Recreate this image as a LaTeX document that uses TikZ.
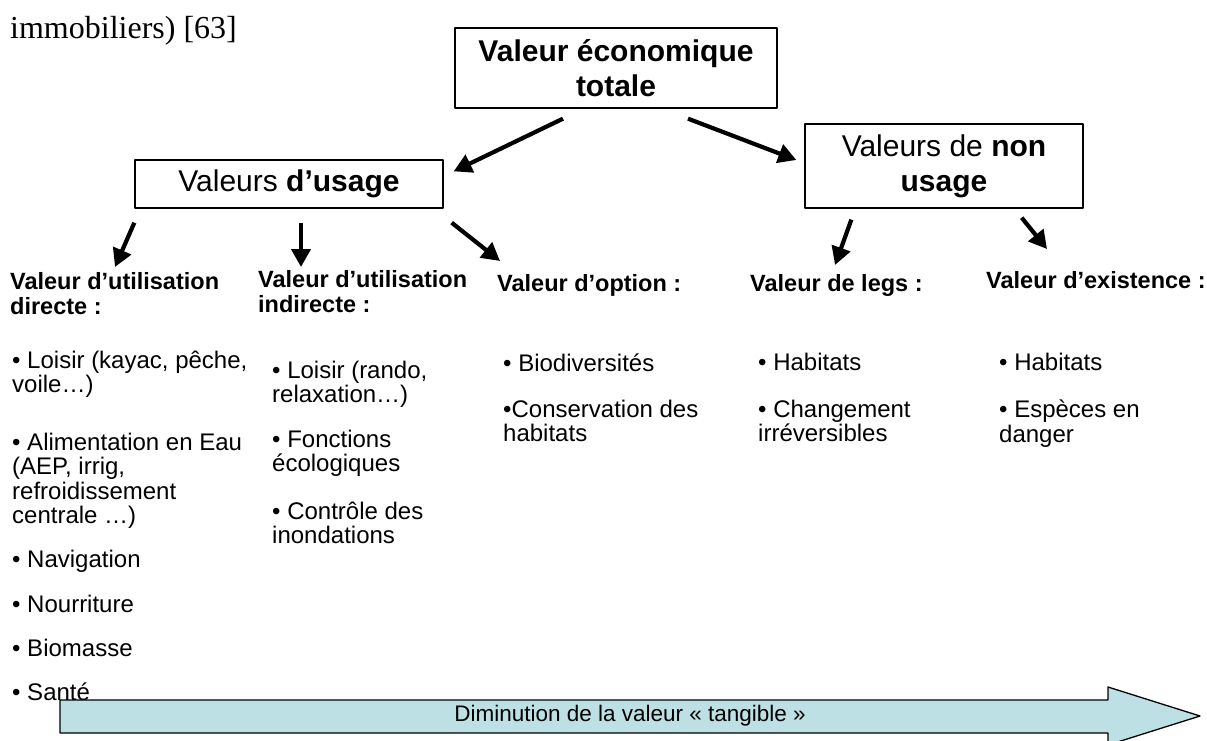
\documentclass[tikz,border=0pt]{standalone}
\usepackage{fontspec}
\setmainfont{Liberation Sans}
\newfontfamily\timesfont{Liberation Serif}
\usepackage{tikz}
\usetikzlibrary{arrows.meta}
\definecolor{tangible}{RGB}{188,224,228}

\begin{document}
\begin{tikzpicture}[x=1pt,y=-1pt,line join=round]
\tikzset{
    valbox/.style={draw=black, line width=1.3pt, inner sep=0pt, align=center, font=\fontsize{30}{35}\selectfont},
    flow/.style={line width=4.2pt, -{Triangle[length=18pt,width=19pt]}},
    heading/.style={anchor=north west, inner sep=0pt, align=left, font=\fontsize{23.5}{25}\selectfont\bfseries, execute at begin node=\strut},
    item/.style={anchor=north west, inner sep=0pt, align=left, font=\fontsize{24}{24.3}\selectfont, execute at begin node=\strut},
}
\useasboundingbox (0,0) rectangle (1207,740);
\node[anchor=base west, inner sep=0pt, font=\timesfont\fontsize{32}{36}\selectfont] (source) at (10,38) {immobiliers) [63]};
% the three boxes
\node[valbox, minimum width=322pt, minimum height=80pt] (total) at (616,68) {\textbf{Valeur économique}\\\textbf{totale}};
\node[valbox, minimum width=308pt, minimum height=48pt] (usage) at (289,184) {Valeurs \textbf{d’usage}};
\node[valbox, minimum width=278pt, minimum height=84pt] (nonusage) at (944,166) {Valeurs de \textbf{non}\\\textbf{usage}};
% column headings
\node[heading] (direct) at (10,272.5) {Valeur d’utilisation\\directe :};
\node[heading] (indirect) at (258,270.5) {Valeur d’utilisation\\indirecte :};
\node[heading] (option) at (497,273.5) {Valeur d’option :};
\node[heading] (legs) at (750,273.5) {Valeur de legs :};
\node[heading] (exist) at (986,270.5) {Valeur d’existence :};
% items
\node[item] (loisirA) at (12,351) {• Loisir (kayac, pêche,\\voile…)};
\node[item] (eau) at (12,433) {• Alimentation en Eau\\(AEP, irrig,\\refroidissement\\centrale …)};
\node[item] (navig) at (12,550) {• Navigation};
\node[item] (nourr) at (12,595) {• Nourriture};
\node[item] (biom) at (12,639) {• Biomasse};
\node[item] (sante) at (12,683) {• Santé};
\node[item] (loisirB) at (272,361) {• Loisir (rando,\\relaxation…)};
\node[item] (fonct) at (272,430) {• Fonctions\\écologiques};
\node[item] (inond) at (272,502) {• Contrôle des\\inondations};
\node[item] (biodiv) at (503,354) {• Biodiversités};
\node[item] (conserv) at (503,400) {•Conservation des\\habitats};
\node[item] (habA) at (758,353) {• Habitats};
\node[item] (chgt) at (758,400) {• Changement\\irréversibles};
\node[item] (habB) at (999,353) {• Habitats};
\node[item] (especes) at (999,400) {• Espèces en\\danger};
% arrows
\draw[flow] ([shift={(-53,10)}]total.south) -- ([shift={(10,12)}]usage.north east);
\draw[flow] ([shift={(72,10)}]total.south) -- ([shift={(-8,-6)}]nonusage.west);
\draw[flow] ([shift={(0,14)}]usage.south west) -- ([shift={(105,-5.5)}]direct.north west);
\draw[flow] ([shift={(12,14)}]usage.south) -- ([shift={(43,-3.5)}]indirect.north west);
\draw[flow] ([shift={(8,14)}]usage.south east) -- ([shift={(3,-12.5)}]option.north west);
\draw[flow] ([shift={(47,11)}]nonusage.south west) -- ([shift={(85,-8.5)}]legs.north west);
\draw[flow] ([shift={(-62,9)}]nonusage.south east) -- ([shift={(61,-21.5)}]exist.north west);
% bottom arrow
\draw[fill=tangible, line width=1.3pt] (60,700) -- (1108,700) -- (1108,687) -- (1200,716) -- (1108,745) -- (1108,733) -- (60,733) -- cycle;
\node[inner sep=0pt, font=\fontsize{22.5}{26}\selectfont] (tangtext) at (630,716) {Diminution de la valeur « tangible »};
\end{tikzpicture}
\end{document}
